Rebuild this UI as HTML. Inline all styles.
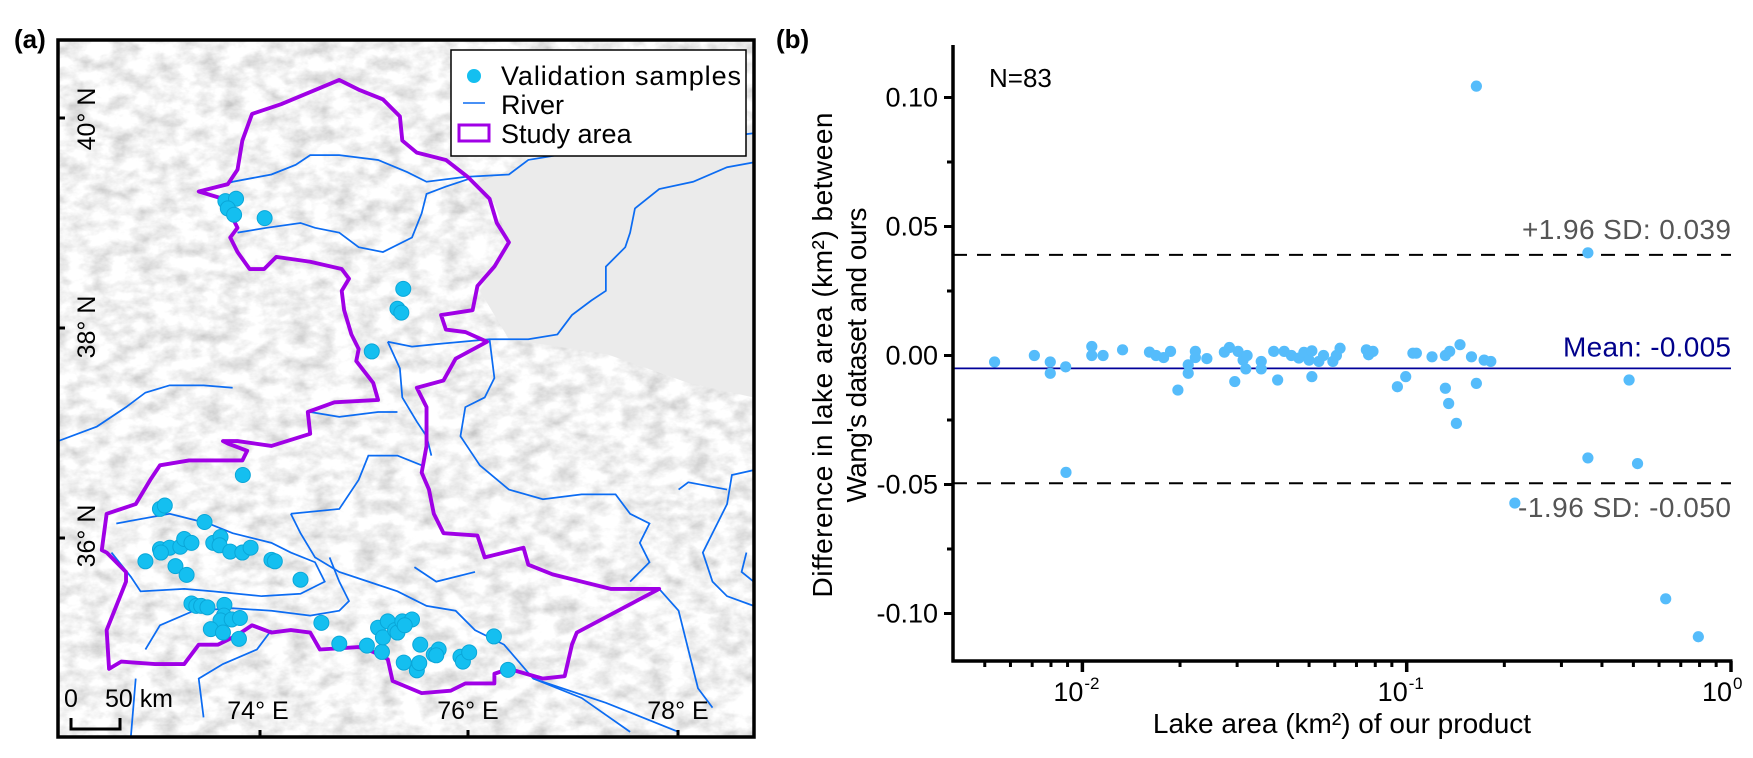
<!DOCTYPE html>
<html><head><meta charset="utf-8"><style>
html,body{margin:0;padding:0;background:#fff;}
svg{display:block;font-family:"Liberation Sans",Arial,sans-serif;}
</style></head><body>
<svg id="fig" width="1753" height="758" viewBox="0 0 1753 758" xmlns="http://www.w3.org/2000/svg">
<defs>
<filter id="hill" x="0" y="0" width="100%" height="100%">
<feTurbulence type="fractalNoise" baseFrequency="0.045 0.07" numOctaves="4" seed="4"/>
<feColorMatrix type="matrix" values="0.75 0 0 0 0.52  0.75 0 0 0 0.52  0.75 0 0 0 0.52  0 0 0 0 1"/>
</filter>
<clipPath id="mapclip"><rect x="58" y="40" width="696" height="697"/></clipPath>
</defs>

<text x="14" y="48" font-size="26" font-weight="bold">(a)</text>
<text x="776" y="48" font-size="26" font-weight="bold">(b)</text>

<!-- MAP -->
<g id="map">
<g clip-path="url(#mapclip)">
<rect x="58" y="40" width="696" height="697" fill="#ddd" filter="url(#hill)"/>
<g transform="scale(0.4847)">
<polygon points="980,380 1100,330 1250,300 1555,260 1555,820 1420,790 1250,730 1050,700 990,600 1050,500 1020,420" fill="#ebebeb"/>
<g fill="none" stroke="#0c6cf2" stroke-width="3.6">
<polyline points="415,395 480,375 560,360 610,340 640,320 700,320 780,330 840,355 880,375 960,365 1050,360 1090,330 1150,320 1240,300 1320,295 1400,290 1470,285 1555,275"/>
<polyline points="490,480 550,470 620,460 650,470 700,480 740,510 790,520 850,490 870,440 880,400 920,385 965,370"/>
<polyline points="1555,335 1500,345 1430,375 1360,390 1310,430 1300,480 1290,510 1250,550 1250,600 1220,620 1180,650 1150,690 1090,700 1010,700 900,710 850,715 800,705"/>
<polyline points="800,705 825,760 830,820 860,870 880,900 890,940"/>
<polyline points="1010,700 1020,780 1000,820 960,840 950,900 990,960 1050,1010 1120,1030 1200,1020 1270,1020 1300,1060 1340,1080 1320,1120 1340,1160 1300,1200"/>
<polyline points="120,910 200,880 260,840 300,810 350,795 420,795 480,800"/>
<polyline points="640,850 700,860 780,850 820,850"/>
<polyline points="240,1080 350,1060 430,1080 480,1100 560,1120 600,1140 650,1160 670,1200 620,1225 540,1230 440,1220 380,1215 290,1220 270,1190 230,1140"/>
<polyline points="300,1340 330,1290 400,1260 480,1255 560,1260 640,1270 700,1260 720,1240 700,1200 680,1150"/>
<polyline points="600,1060 620,1100 650,1150 700,1180 760,1200 820,1220 880,1250 940,1260 980,1300 1040,1330 1100,1400 1200,1440 1300,1510"/>
<polyline points="600,1060 700,1050 740,990 760,940 820,940 870,960"/>
<polyline points="1555,970 1510,980 1500,1040 1470,1100 1450,1140 1470,1200 1500,1230 1555,1250"/>
<polyline points="1400,1010 1420,995 1500,1010"/>
<polyline points="420,1480 410,1400 460,1370 530,1340 560,1300"/>
<polyline points="1100,1400 1250,1450 1400,1510"/>
<polyline points="280,1400 270,1520"/>
<polyline points="1360,1215 1400,1260 1420,1340 1440,1420 1470,1460"/>
<polyline points="855,1170 900,1200 980,1180"/>
<polyline points="1540,1140 1530,1180 1555,1200"/>
</g>
<polygon fill="none" stroke="#a000e6" stroke-width="8" stroke-linejoin="round" points="410,395 470,380 490,350 500,290 520,235 580,215 640,190 700,165 740,185 790,205 825,240 830,290 860,315 920,330 965,365 1010,410 1025,460 1050,500 1020,550 985,590 975,640 910,650 920,680 960,685 1005,705 940,740 915,785 860,800 880,840 880,920 870,975 885,1010 895,1060 915,1100 985,1105 1000,1150 1080,1130 1090,1165 1140,1185 1200,1200 1260,1215 1300,1215 1360,1215 1190,1305 1180,1330 1165,1395 1120,1400 1050,1380 1020,1390 1020,1410 960,1410 930,1425 870,1430 810,1405 800,1360 770,1345 740,1335 660,1340 640,1305 600,1300 560,1305 520,1290 490,1310 450,1330 410,1330 380,1370 320,1370 250,1365 225,1380 220,1300 260,1200 260,1180 220,1140 210,1135 220,1060 280,1040 310,990 330,960 390,950 440,950 500,950 510,930 470,915 460,910 490,910 560,920 640,895 635,850 690,830 780,825 770,790 735,745 740,720 725,690 710,640 705,600 720,575 705,555 640,540 570,530 545,555 515,555 490,520 475,490 490,470 475,440 460,410"/>
<g id="samples" fill="#14bff0" stroke="#0aa6d8" stroke-width="2"></g>
</g>
</g>
<rect x="58" y="40" width="696" height="697" fill="none" stroke="#000" stroke-width="3.5"/>
<g stroke="#000" stroke-width="3">
<line x1="58" y1="118" x2="65" y2="118"/><line x1="58" y1="328" x2="65" y2="328"/><line x1="58" y1="538" x2="65" y2="538"/>
<line x1="260" y1="737" x2="260" y2="730"/><line x1="468" y1="737" x2="468" y2="730"/><line x1="678" y1="737" x2="678" y2="730"/>
</g>
<g font-size="25" fill="#000">
<text transform="translate(95,119) rotate(-90)" text-anchor="middle">40° N</text>
<text transform="translate(95,327) rotate(-90)" text-anchor="middle">38° N</text>
<text transform="translate(95,536) rotate(-90)" text-anchor="middle">36° N</text>
<text x="258" y="719" text-anchor="middle">74° E</text>
<text x="468" y="719" text-anchor="middle">76° E</text>
<text x="678" y="719" text-anchor="middle">78° E</text>
<text x="64" y="707">0</text>
<text x="105" y="707" textLength="68">50 km</text>
</g>
<polyline points="71,718 71,729 120,729 120,718" fill="none" stroke="#000" stroke-width="3"/>
<g>
<rect x="451" y="50" width="295" height="106" fill="#fff" stroke="#000" stroke-width="1.5"/>
<circle cx="474" cy="76" r="7" fill="#14bff0"/>
<text x="501" y="85" font-size="27" textLength="240">Validation samples</text>
<line x1="463" y1="103" x2="485" y2="103" stroke="#0c6cf2" stroke-width="1.5"/>
<text x="501" y="114" font-size="27">River</text>
<rect x="459" y="125" width="30" height="16" fill="none" stroke="#a000e6" stroke-width="3"/>
<text x="501" y="143" font-size="27">Study area</text>
</g>
</g>

<!-- CHART -->
<g id="chart"></g>
</svg>
<script>
// ---- chart data ----
const lakeArea = [0.00536,0.00711,0.00796,0.00796,0.00888,0.0089,0.01069,0.01069,0.01158,0.0133,0.0161,0.01687,0.0178,0.0187,0.0197,0.0212,0.0212,0.0223,0.0223,0.0242,0.0274,0.0284,0.0295,0.0302,0.0313,0.0319,0.0322,0.0356,0.0356,0.0389,0.0400,0.0419,0.0441,0.0465,0.0482,0.0500,0.0510,0.0510,0.0536,0.0554,0.0592,0.0607,0.0623,0.0751,0.0763,0.0787,0.0936,0.0993,0.1045,0.1071,0.1197,0.1316,0.1316,0.1357,0.1347,0.1423,0.146,0.1584,0.164,0.1733,0.1817,0.2155,0.164,0.362,0.362,0.485,0.515,0.629,0.793];
const areaDiff = [-0.0025,0,-0.0025,-0.0069,-0.0044,-0.0453,0.0035,0,0,0.0022,0.0013,0,-0.0008,0.0016,-0.0134,-0.0036,-0.0069,0.0016,-0.0008,-0.0012,0.0013,0.0031,-0.0101,0.0016,-0.0018,-0.0052,0,-0.0023,-0.0052,0.0016,-0.0095,0.0016,0,-0.0010,0.0012,-0.0018,0.0018,-0.0082,-0.0023,0,-0.0023,0,0.0028,0.0022,0.0003,0.0016,-0.0121,-0.0082,0.0009,0.0009,-0.0005,0,-0.0127,0.0016,-0.0186,-0.0263,0.0042,-0.0005,-0.0108,-0.0018,-0.0023,-0.0572,0.1044,0.0398,-0.0397,-0.0095,-0.0419,-0.0943,-0.109];
const meanDiff = -0.005;
const upperLoA = 0.039;
const lowerLoA = -0.0495;
const yTicks = [0.10, 0.05, 0.00, -0.05, -0.10];
const yTickLabels = ["0.10", "0.05", "0.00", "-0.05", "-0.10"];
const yMinorTicks = [0.075, 0.025, -0.025, -0.075];
const xTickExps = [-2, -1, 0];
const upperLabel = "+1.96 SD: 0.039";
const meanLabel = "Mean: -0.005";
const lowerLabel = "-1.96 SD: -0.050";
const sampleCount = "N=83";

// ---- map samples (map drawing units) ----
const mapSamples = [[465,415],[487,410],[470,430],[483,443],[546,450],[832,596],[820,637],[828,645],[767,725],[501,980],[330,1050],[340,1043],[422,1077],[300,1158],[330,1133],[350,1130],[372,1128],[380,1112],[395,1120],[332,1140],[362,1168],[385,1186],[440,1120],[455,1108],[453,1125],[475,1138],[500,1140],[517,1130],[560,1155],[567,1158],[620,1196],[395,1245],[405,1250],[415,1250],[428,1253],[463,1248],[462,1270],[455,1280],[478,1278],[495,1275],[435,1298],[460,1305],[493,1318],[663,1285],[700,1328],[757,1332],[788,1345],[780,1295],[800,1282],[790,1315],[815,1300],[820,1305],[830,1282],[850,1278],[835,1290],[867,1330],[833,1367],[860,1383],[865,1368],[895,1350],[905,1340],[900,1352],[950,1355],[955,1365],[968,1346],[1019,1313],[1048,1382]];

const NS = "http://www.w3.org/2000/svg";
function mk(tag, attrs, parent){const e=document.createElementNS(NS,tag);for(const k in attrs)e.setAttribute(k,attrs[k]);parent.appendChild(e);return e;}

const sg = document.getElementById('samples');
mapSamples.forEach(p=>{
  const c = mk('circle',{cx:p[0],cy:p[1],r:15.5},sg);
  
  
});

// axis functions
const X0 = 953, X1 = 1731, YT = 45, YB = 661;
const xScale = v => 1731 + 324.3*Math.log10(v);
const yScale = v => 355.5 - 2580*v;
const g = document.getElementById('chart');

// reference lines
[[upperLoA,'upper-loa-line'],[lowerLoA,'lower-loa-line']].forEach(([v,n])=>{
  const l = mk('line',{x1:X0,x2:X1,y1:yScale(v),y2:yScale(v),stroke:'#000','stroke-width':2,'stroke-dasharray':'14,10'},g);
  
  
});
const ml = mk('line',{x1:X0,x2:X1,y1:yScale(meanDiff),y2:yScale(meanDiff),stroke:'#00009a','stroke-width':1.8},g);



// points
lakeArea.forEach((a,i)=>{
  const c = mk('circle',{cx:xScale(a),cy:yScale(areaDiff[i]),r:5.6,fill:'#55bcfb'},g);
  
  
});

// axes
const ya = mk('line',{x1:X0,x2:X0,y1:YT,y2:YB+1.5,stroke:'#000','stroke-width':3.5},g);


const xa = mk('line',{x1:X0-1.5,x2:X1+1.5,y1:YB,y2:YB,stroke:'#000','stroke-width':3.5},g);



yTicks.forEach((v,i)=>{
  const y = yScale(v);
  const t = mk('line',{x1:X0-9,x2:X0,y1:y,y2:y,stroke:'#000','stroke-width':3},g);
  
  
  const lb = mk('text',{x:938,y:y+9,'text-anchor':'end','font-size':27},g);
  lb.textContent = yTickLabels[i];
  
  
});
yMinorTicks.forEach(v=>{
  const y = yScale(v);
  const t = mk('line',{x1:X0-6,x2:X0,y1:y,y2:y,stroke:'#000','stroke-width':3},g);
  
  
});
xTickExps.forEach(e=>{
  const x = xScale(Math.pow(10,e));
  const t = mk('line',{x1:x,x2:x,y1:YB,y2:YB+11,stroke:'#000','stroke-width':3.5},g);
  
  
  const lb = mk('text',{x:x-14,y:701,'text-anchor':'middle','font-size':27},g);
  lb.textContent = '10';
  
  
  const sp = mk('text',{x:x+2,y:689,'font-size':17},g);
  sp.textContent = String(e);
  
  
  if(e<0){for(let m=2;m<=9;m++){
    const mx = xScale(m*Math.pow(10,e));
    const mt = mk('line',{x1:mx,x2:mx,y1:YB,y2:YB+6,stroke:'#000','stroke-width':3},g);
    
    
  }}
});
for(let m=5;m<=9;m++){
  const mx = xScale(m*0.001);
  if(mx<X0) continue;
  const mt = mk('line',{x1:mx,x2:mx,y1:YB,y2:YB+6,stroke:'#000','stroke-width':3},g);
  
  
}

// annotations
function label(txt,x,y,attrs,name){
  const t = mk('text',Object.assign({x:x,y:y},attrs),g);
  t.textContent = txt;
  
  
  return t;
}
label(upperLabel,1731,yScale(upperLoA)-16,{'text-anchor':'end','font-size':28,fill:'#555',textLength:209},'upper-loa-label');
label(meanLabel,1731,yScale(meanDiff)-12,{'text-anchor':'end','font-size':28,fill:'#00008b',textLength:168},'mean-label');
label(lowerLabel,1731,yScale(lowerLoA)+34,{'text-anchor':'end','font-size':28,fill:'#555',textLength:213},'lower-loa-label');
label(sampleCount,989,87,{'font-size':26},'sample-count');
label('Lake area (km²) of our product',1342,733,{'text-anchor':'middle','font-size':28},'x-axis-title');
const yt1 = mk('text',{transform:'translate(832,355) rotate(-90)','text-anchor':'middle','font-size':28,textLength:485},g);
yt1.textContent = 'Difference in lake area (km²) between';


const yt2 = mk('text',{transform:'translate(866,355) rotate(-90)','text-anchor':'middle','font-size':28,textLength:295},g);
yt2.textContent = "Wang's dataset and ours";


</script>
</body></html>
